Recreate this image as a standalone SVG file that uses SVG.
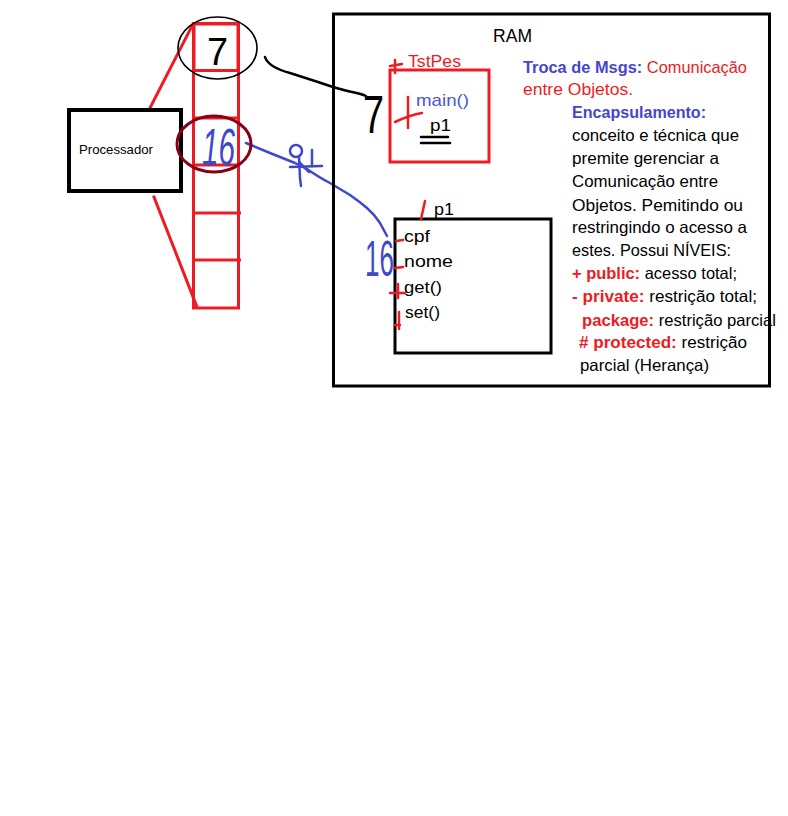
<svg xmlns="http://www.w3.org/2000/svg" width="788" height="816" viewBox="0 0 788 816">
<style>
.t{font-family:"Liberation Sans",Arial,sans-serif;}
.rs{fill:none;stroke:#ed1c24;stroke-width:3;stroke-linecap:square;}
.bk{fill:none;stroke:#000;}
.bl{fill:none;stroke:#3f48cc;stroke-width:2.5;stroke-linecap:round;stroke-linejoin:round;}
.mk{fill:none;stroke:#ed1c24;stroke-width:2.5;stroke-linecap:round;}
.note{font-size:16.5px;fill:#000;}
.b{font-weight:bold;}
.red{fill:#ed1c24;}
.blu{fill:#4646cc;}
</style>
<rect width="788" height="816" fill="#fff"/>

<g id="connectors">
  <path class="rs" d="M150,108 L193,24"/>
  <path class="rs" d="M154,197 L197,307"/>
  <path class="bk" stroke-width="2.5" stroke-linecap="round" d="M265,57 Q268,67 290,73 L318,82 Q338,89 352,92 Q362,94 366,96"/>
  <path class="bl" d="M246,143 L270,153 L295,163 L307,169 Q320,178 330,183 L350,195 Q360,202 367,208 Q375,215 380,223 L387,236"/>
  <g class="bl">
    <ellipse cx="296" cy="151" rx="6" ry="6"/>
    <path d="M299,157 L300,178 L301,186"/>
    <path d="M290,167 L322,166"/>
    <path d="M312,150 L312,166"/>
    <path d="M299,162 L309,172"/>
  </g>
</g>

<g id="processador">
  <rect x="69" y="110" width="112" height="81" fill="#fff" stroke="#000" stroke-width="4"/>
  <text class="t" x="79" y="154" font-size="13" textLength="74" lengthAdjust="spacingAndGlyphs">Processador</text>
</g>

<g id="memoria">
  <rect class="rs" x="193.5" y="23.5" width="45" height="284.5" stroke-linecap="butt"/>
  <rect class="rs" x="194" y="24" width="44" height="46.5" stroke-width="3.5"/>
  <path class="rs" d="M193.5,118 H238.5 M193.5,165 H238.5 M193.5,213 H239.5 M193.5,260 H239.5"/>
</g>

<g id="endereco7">
  <ellipse cx="217.5" cy="48" rx="39.5" ry="31" class="bk" stroke-width="1.6"/>
  <text class="t" x="207" y="65" font-size="38" fill="#000">7</text>
</g>

<g id="endereco16">
  <ellipse cx="214" cy="144" rx="37" ry="28" fill="none" stroke="#880015" stroke-width="3"/>
  <text class="t" transform="translate(202,165) scale(0.57,1)" font-size="52" font-style="italic" fill="#3f48cc">16</text>
</g>

<g id="ram">
  <rect x="333.5" y="14" width="436" height="372" fill="none" stroke="#000" stroke-width="3"/>
  <text class="t" x="493" y="42" font-size="18" textLength="39" lengthAdjust="spacingAndGlyphs">RAM</text>
</g>

<g id="tstpes">
  <rect class="rs" x="390" y="70" width="99" height="92"/>
  <path class="mk" d="M395,60 L395,73 M390,66 L402,64"/>
  <text class="t red" x="408" y="67" font-size="17" textLength="53" lengthAdjust="spacingAndGlyphs">TstPes</text>
  <text class="t" x="416" y="106" font-size="17" textLength="53" lengthAdjust="spacingAndGlyphs" fill="#4a55d6">main()</text>
  <path class="mk" d="M408,97 L408,128 M395,122 Q410,115 422,113"/>
  <text class="t" x="430" y="131" font-size="17" textLength="21" lengthAdjust="spacingAndGlyphs">p1</text>
  <path class="bk" stroke-width="2.5" stroke-linecap="round" d="M421,137 L448,137 M421,143 L450,143"/>
  <text class="t" transform="translate(363,133) scale(0.7,1)" font-size="54" fill="#000">7</text>
</g>

<g id="p1">
  <rect x="395" y="219" width="156" height="134" fill="none" stroke="#000" stroke-width="3"/>
  <text class="t" x="434" y="215" font-size="17" textLength="20" lengthAdjust="spacingAndGlyphs">p1</text>
  <path class="mk" d="M425,201 L421,219"/>
  <text class="t" x="404" y="242" font-size="17" textLength="26" lengthAdjust="spacingAndGlyphs">cpf</text>
  <path class="mk" d="M396,241 L403,240"/>
  <text class="t" x="404" y="267" font-size="17" textLength="49" lengthAdjust="spacingAndGlyphs">nome</text>
  <path class="mk" d="M395,268 L403,267"/>
  <text class="t" x="404" y="293" font-size="17" textLength="38" lengthAdjust="spacingAndGlyphs">get()</text>
  <path class="mk" d="M390,293 L405,293 M398,284 L398,298"/>
  <text class="t" x="405" y="318" font-size="17" textLength="35" lengthAdjust="spacingAndGlyphs">set()</text>
  <path class="mk" d="M399,312 L399,329 M395,325 L400,325"/>
  <text class="t" transform="translate(365,276) scale(0.52,1)" font-size="50" fill="#3f48cc">16</text>
</g>

<g id="notas" class="t note">
  <text x="523" y="73" textLength="224" lengthAdjust="spacingAndGlyphs"><tspan class="b blu">Troca de Msgs:</tspan><tspan class="red"> Comunicação</tspan></text>
  <text x="523" y="95" class="red" textLength="110" lengthAdjust="spacingAndGlyphs">entre Objetos.</text>
  <text x="572" y="118" class="b blu" textLength="134" lengthAdjust="spacingAndGlyphs">Encapsulamento:</text>
  <text x="572" y="141" textLength="167" lengthAdjust="spacingAndGlyphs">conceito e técnica que</text>
  <text x="572" y="164" textLength="147" lengthAdjust="spacingAndGlyphs">premite gerenciar a</text>
  <text x="572" y="187" textLength="146" lengthAdjust="spacingAndGlyphs">Comunicação entre</text>
  <text x="572" y="211" textLength="171" lengthAdjust="spacingAndGlyphs">Objetos. Pemitindo ou</text>
  <text x="572" y="233" textLength="175" lengthAdjust="spacingAndGlyphs">restringindo o acesso a</text>
  <text x="572" y="256" textLength="159" lengthAdjust="spacingAndGlyphs">estes. Possui NÍVEIS:</text>
  <text x="572" y="279" textLength="165" lengthAdjust="spacingAndGlyphs"><tspan class="b red">+ public:</tspan> acesso total;</text>
  <text x="572" y="302" textLength="185" lengthAdjust="spacingAndGlyphs"><tspan class="b red">- private:</tspan> restrição total;</text>
  <text x="582" y="326" textLength="194" lengthAdjust="spacingAndGlyphs"><tspan class="b red">package:</tspan> restrição parcial</text>
  <text x="579" y="348" textLength="168" lengthAdjust="spacingAndGlyphs"><tspan class="b red"># protected:</tspan> restrição</text>
  <text x="580" y="371" textLength="129" lengthAdjust="spacingAndGlyphs">parcial (Herança)</text>
</g>
</svg>
